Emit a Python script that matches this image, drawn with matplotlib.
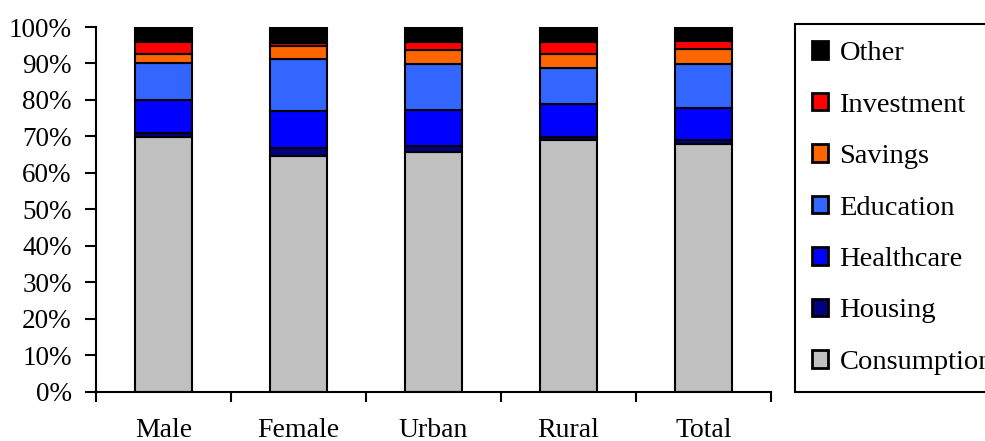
import numpy as np
import matplotlib
matplotlib.use('Agg')
import matplotlib.pyplot as plt

plt.rcParams['font.family'] = ['Liberation Serif', 'DejaVu Serif']

# dati (percentuali)
gruppi = ['Male', 'Female', 'Urban', 'Rural', 'Total']
consumption = [69.7, 64.7, 65.8, 69.0, 68.0]
housing = [1.2, 2.2, 1.6, 0.7, 1.1]
healthcare = [9.1, 10.0, 9.9, 9.3, 8.7]
education = [10.0, 14.2, 12.6, 9.8, 12.1]
savings = [2.7, 3.8, 3.9, 3.9, 4.1]
investment = [3.1, 0.8, 2.1, 3.2, 2.1]
other = [4.2, 4.3, 4.1, 4.1, 4.1]

serie = [('Consumption', consumption, '#C0C0C0'),
         ('Housing', housing, '#000080'),
         ('Healthcare', healthcare, '#0000FF'),
         ('Education', education, '#3366FF'),
         ('Savings', savings, '#FF6600'),
         ('Investment', investment, '#FF0000'),
         ('Other', other, '#000000')]

fs = 19.5
fig = plt.figure(figsize=(9.85, 4.41), dpi=100)
ax = fig.add_axes([0.0975, 0.1122, 0.685, 0.8265])

x = np.arange(len(gruppi))
base = np.zeros(len(gruppi))
barre = []
for nome, val, col in serie:
    v = np.array(val)
    b = ax.bar(x, v, 0.42, bottom=base, color=col, edgecolor='black',
               linewidth=1.5, label=nome)
    barre.append(b)
    base = base + v

ax.set_xlim(-0.5, len(gruppi) - 0.5)
ax.set_ylim(0, 100)
ax.set_yticks(np.arange(0, 101, 10))
ax.set_yticklabels([f'{t}%' for t in range(0, 101, 10)], fontsize=fs)
ax.set_xticks(x)
ax.set_xticklabels(gruppi, fontsize=20)
ax.set_xticks(np.arange(-0.5, len(gruppi)), minor=True)
ax.tick_params(axis='x', which='major', length=0, pad=19)
ax.tick_params(axis='x', which='minor', length=7, width=1.5, direction='out')
ax.tick_params(axis='y', length=8, width=1.5, pad=9.5)
for s in ['top', 'right']:
    ax.spines[s].set_visible(False)
for s in ['left', 'bottom']:
    ax.spines[s].set_linewidth(1.5)

leg = fig.legend(barre[::-1], [s[0] for s in serie][::-1],
                 loc='upper left', bbox_to_anchor=(795 / 985, 1 - 24 / 441),
                 fontsize=20.5, frameon=True, fancybox=False, shadow=False,
                 framealpha=1, handlelength=0.56, handleheight=0.56,
                 handletextpad=0.4, labelspacing=0.93, borderpad=0.6,
                 borderaxespad=0)
leg.get_frame().set_edgecolor('black')
leg.get_frame().set_linewidth(1.5)
for h in leg.legend_handles:
    h.set_linewidth(2)

plt.savefig('out.png', dpi=100)
